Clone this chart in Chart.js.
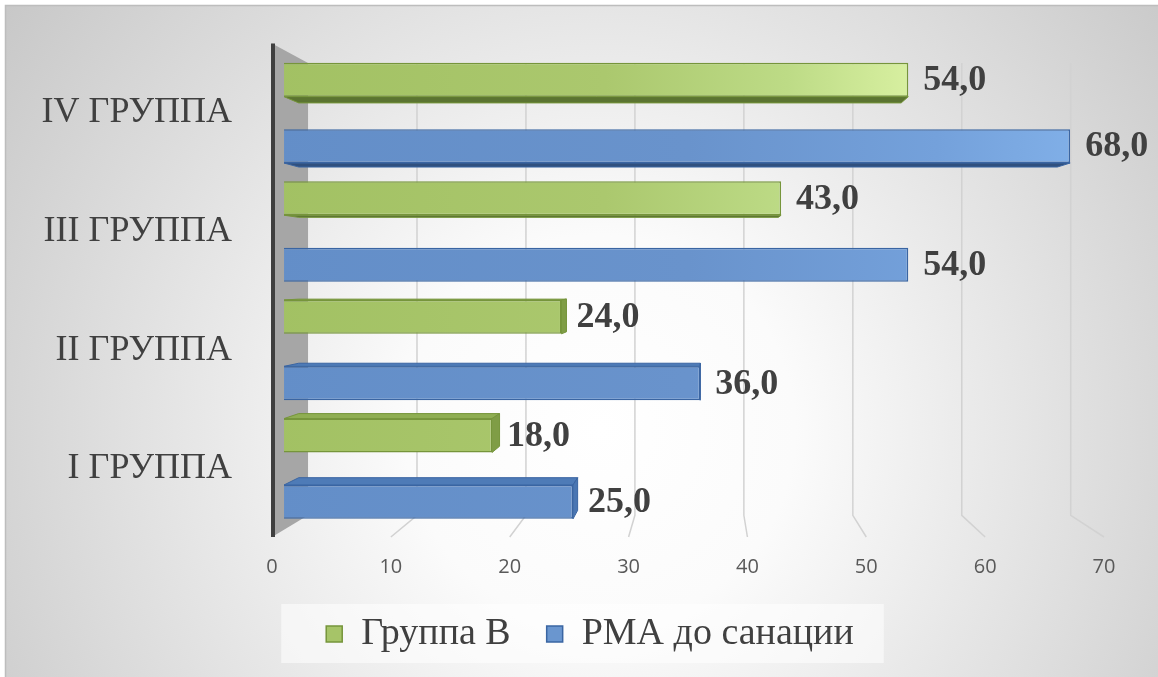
<!DOCTYPE html>
<html>
<head>
<meta charset="utf-8">
<title>РМА до санации / Группа В</title>
<script src="https://cdn.jsdelivr.net/npm/chart.js"></script>
<style>
  html, body { margin: 0; padding: 0; background: #fff; }
  #wrap { width: 1158px; height: 677px; }
</style>
</head>
<body>
<div id="wrap"><canvas id="groupsChart" width="1158" height="677"></canvas></div>
<script>
const groups = ['IV ГРУППА', 'III ГРУППА', 'II ГРУППА', 'I ГРУППА'];
const seriesNames = ['Группа В', 'РМА до санации'];
const groupB = [54, 43, 24, 18];
const rmaBefore = [68, 54, 36, 25];
const xTicks = [0, 10, 20, 30, 40, 50, 60, 70];

const SERIF = "'Liberation Serif', 'Times New Roman', serif";
const TEXT = '#404040';

// shades for the front face gradient and the extruded faces
const palette = [
  {
    stops: [[0, '#a2c163'], [0.4, '#abc86e'], [0.62, '#bddb86'], [0.77, '#d8f0a1'], [1, '#e0f6aa']],
    legend: '#a6c468', border: '#76953b', under: '#5b7431', top: '#8fae53', side: '#7f9d46'
  },
  {
    stops: [[0, '#638ec8'], [0.5, '#6993cc'], [0.8, '#74a1db'], [1, '#83b2ea']],
    legend: '#6a96cf', border: '#3a65a2', under: '#30507e', top: '#4e7bb7', side: '#4a76b2'
  }
];

const DEPTH = 0.0833;     // wall / floor depth toward the vanishing point
const BAR_DEPTH = 0.035;  // bar thickness toward the vanishing point

function vanishing(a) {
  return { x: a.left + a.width * 0.52, y: a.top + a.height * 0.47 };
}
function toward(p, vp, k) {
  return { x: p.x + (vp.x - p.x) * k, y: p.y + (vp.y - p.y) * k };
}
function poly(ctx, pts, fill, stroke) {
  ctx.beginPath();
  ctx.moveTo(pts[0].x, pts[0].y);
  for (let i = 1; i < pts.length; i++) ctx.lineTo(pts[i].x, pts[i].y);
  ctx.closePath();
  ctx.fillStyle = fill;
  ctx.fill();
  if (stroke) { ctx.strokeStyle = stroke; ctx.lineWidth = 1; ctx.stroke(); }
}

function faceGradient(ctx, i) {
  const chart = ctx.chart;
  const a = chart.chartArea;
  if (!a) return palette[i].legend;
  const g = chart.ctx.createLinearGradient(a.left, 0, a.right, 0);
  palette[i].stops.forEach(s => g.addColorStop(s[0], s[1]));
  return g;
}

function fmt(v) {
  return v.toFixed(1).replace('.', ',');
}

const scene = {
  id: 'scene',
  beforeDraw(chart) {
    const { ctx, width, height } = chart;
    ctx.save();
    ctx.fillStyle = '#fff';
    ctx.fillRect(0, 0, width, height);
    const g = ctx.createRadialGradient(600, 430, 0, 600, 430, 780);
    g.addColorStop(0, '#ffffff');
    g.addColorStop(0.25, '#fbfbfb');
    g.addColorStop(1, '#c3c3c3');
    ctx.fillStyle = g;
    ctx.fillRect(5, 5, width - 5, height - 5);
    ctx.strokeStyle = '#bdbdbd';
    ctx.lineWidth = 1.5;
    ctx.beginPath();
    ctx.moveTo(5.5, height);
    ctx.lineTo(5.5, 5.5);
    ctx.lineTo(width, 5.5);
    ctx.stroke();

    // translucent panel behind the legend
    const hb = chart.legend && chart.legend.legendHitBoxes;
    if (hb && hb.length) {
      const first = hb[0], last = hb[hb.length - 1];
      const cy = first.top + first.height / 2;
      const left = first.left - 45;
      ctx.fillStyle = 'rgba(255,255,255,0.55)';
      ctx.fillRect(left, cy - 30, last.left + last.width + 30 - left, 59);
    }
    ctx.restore();
  },
  beforeDatasetsDraw(chart) {
    const { ctx, chartArea: a, scales: { x } } = chart;
    const vp = vanishing(a);
    const top = a.top - 10, floor = a.bottom + 9;
    ctx.save();

    // back wall grid lines bending onto the floor
    ctx.strokeStyle = '#d2d2d2';
    ctx.lineWidth = 1.5;
    x.ticks.forEach(t => {
      if (t.value === x.min) return;
      const fx = x.getPixelForValue(t.value);
      const bt = toward({ x: fx, y: top }, vp, DEPTH);
      const bf = toward({ x: fx, y: floor }, vp, DEPTH);
      ctx.beginPath();
      ctx.moveTo(bt.x, bt.y);
      ctx.lineTo(bf.x, bf.y);
      ctx.lineTo(fx, floor);
      ctx.stroke();
    });

    // side wall and the axis edge
    const l = a.left;
    poly(ctx, [
      { x: l, y: top },
      toward({ x: l, y: top }, vp, DEPTH),
      toward({ x: l, y: floor }, vp, DEPTH),
      { x: l, y: floor }
    ], '#a6a6a6');
    ctx.strokeStyle = '#3f3f3f';
    ctx.lineWidth = 4;
    ctx.beginPath();
    ctx.moveTo(l + 1, top);
    ctx.lineTo(l + 1, floor);
    ctx.stroke();

    // extruded sides of each bar
    chart.data.datasets.forEach((ds, i) => {
      const c = palette[i];
      chart.getDatasetMeta(i).data.forEach(bar => {
        const { x: x1, y, base: x0, height } = bar.getProps(['x', 'y', 'base', 'height'], true);
        const y0 = y - height / 2, y1 = y + height / 2;
        const TL = { x: x0, y: y0 }, TR = { x: x1, y: y0 };
        const BL = { x: x0, y: y1 }, BR = { x: x1, y: y1 };
        const tl = toward(TL, vp, BAR_DEPTH), tr = toward(TR, vp, BAR_DEPTH);
        const bl = toward(BL, vp, BAR_DEPTH), br = toward(BR, vp, BAR_DEPTH);
        if (vp.y < y0) poly(ctx, [TL, TR, tr, tl], c.top, c.border);
        if (vp.y > y1) poly(ctx, [BL, BR, br, bl], c.under, c.border);
        if (vp.x > x1) poly(ctx, [TR, BR, br, tr], c.side, c.border);
      });
    });
    ctx.restore();
  },
  afterDatasetsDraw(chart) {
    const { ctx } = chart;
    ctx.save();
    ctx.font = "bold 36px " + SERIF;
    ctx.fillStyle = TEXT;
    ctx.textAlign = 'left';
    ctx.textBaseline = 'middle';
    chart.data.datasets.forEach((ds, i) => {
      chart.getDatasetMeta(i).data.forEach((bar, j) => {
        ctx.fillText(fmt(ds.data[j]), bar.x + 15, bar.y + 1);
      });
    });
    ctx.restore();
  }
};

new Chart(document.getElementById('groupsChart'), {
  type: 'bar',
  data: {
    labels: groups,
    datasets: [
      {
        label: seriesNames[0],
        data: groupB,
        xAxisID: 'xb',
        backgroundColor: ctx => faceGradient(ctx, 0),
        borderColor: palette[0].border,
        borderWidth: 1.5,
        barPercentage: 0.51,
        categoryPercentage: 1.12
      },
      {
        label: seriesNames[1],
        data: rmaBefore,
        xAxisID: 'xb',
        backgroundColor: ctx => faceGradient(ctx, 1),
        borderColor: palette[1].border,
        borderWidth: 1.5,
        barPercentage: 0.51,
        categoryPercentage: 1.12
      }
    ]
  },
  options: {
    indexAxis: 'y',
    responsive: false,
    animation: false,
    layout: { padding: { left: 22, right: 0, top: 50, bottom: 14 } },
    scales: {
      y: {
        grid: { display: false },
        border: { display: false },
        ticks: { color: TEXT, font: { family: SERIF, size: 36 }, padding: 32 },
        afterFit(scale) { scale.width = 250; }
      },
      // empty margin on the right, keeps room for the value labels
      yr: {
        type: 'linear',
        position: 'right',
        grid: { display: false },
        border: { display: false },
        ticks: { display: false },
        afterFit(scale) { scale.width = 54; }
      },
      // labelled floor scale
      x: {
        position: 'bottom',
        min: xTicks[0],
        max: xTicks[xTicks.length - 1],
        grid: { display: false },
        border: { display: false },
        ticks: {
          stepSize: xTicks[1] - xTicks[0],
          color: '#595959',
          font: { family: "'Open Sans', sans-serif", size: 20 },
          padding: 19,
          maxRotation: 0
        },
        afterFit(scale) { scale.height = 51; }
      },
      // front face of the bars sits nearer the viewer than the floor labels
      xb: {
        display: false,
        position: 'bottom',
        min: -1.04,
        max: 70.93
      }
    },
    plugins: {
      legend: {
        position: 'bottom',
        labels: {
          color: TEXT,
          font: { family: SERIF, size: 38 },
          boxWidth: 16,
          boxHeight: 16,
          padding: 36,
          generateLabels(chart) {
            const items = Chart.defaults.plugins.legend.labels.generateLabels(chart);
            items.forEach((it, i) => {
              it.fillStyle = palette[i].legend;
              it.strokeStyle = palette[i].border;
              it.lineWidth = 1.5;
            });
            return items;
          }
        }
      },
      tooltip: { enabled: false }
    }
  },
  plugins: [scene]
});
</script>
</body>
</html>
